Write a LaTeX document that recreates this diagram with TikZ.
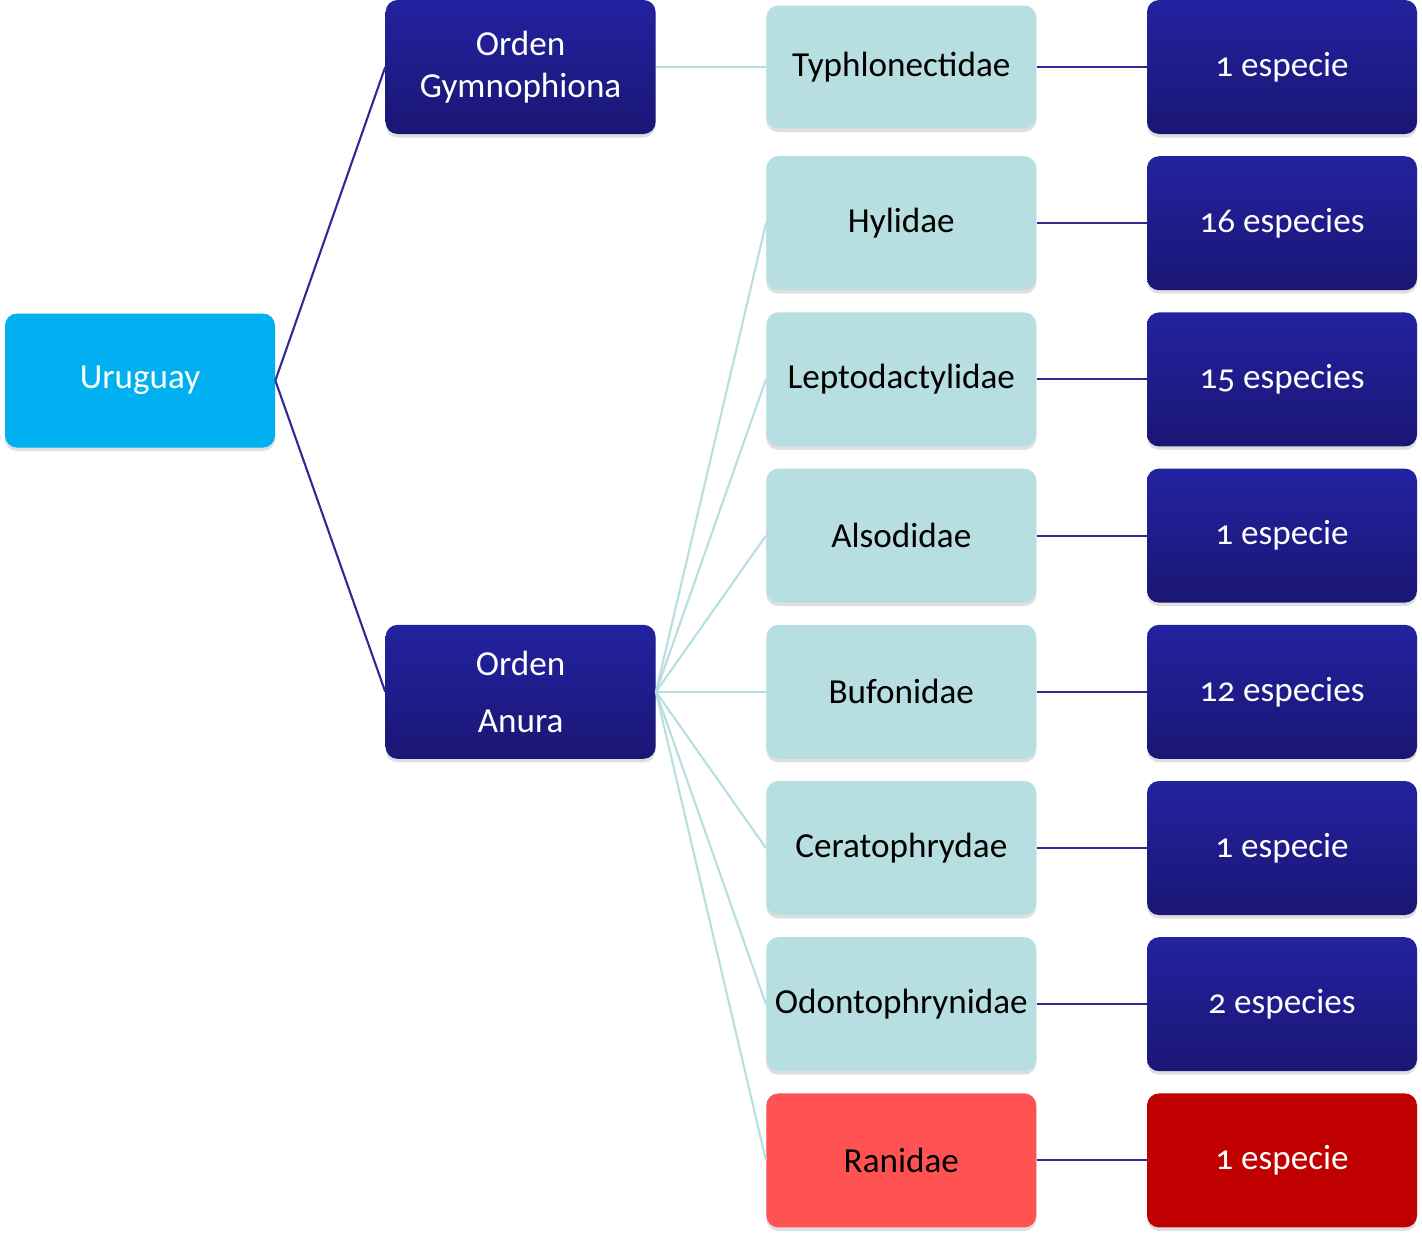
\documentclass[tikz,border=0pt]{standalone}
\usepackage{fontspec}
\setmainfont{Carlito}[Numbers=OldStyle]
\usetikzlibrary{positioning,shadows}
\definecolor{cian}{RGB}{0,176,240}
\definecolor{celeste}{RGB}{183,222,224}
\definecolor{azularriba}{RGB}{35,34,160}
\definecolor{azulabajo}{RGB}{26,22,116}
\definecolor{lineaazul}{RGB}{44,44,148}
\definecolor{rojoclaro}{RGB}{255,82,82}
\definecolor{rojo}{RGB}{192,0,0}
\tikzset{
  caja/.style={rectangle, rounded corners=0.24cm, minimum width=5.4cm,
    minimum height=2.68cm, align=center, font=\fontsize{20}{24}\selectfont,
    drop shadow={shadow xshift=0pt, shadow yshift=-0.07cm, opacity=0.25}},
  raiz/.style={caja, fill=cian, text=white},
  orden/.style={caja, top color=azularriba, bottom color=azulabajo, text=white},
  familia/.style={caja, fill=celeste, text=black},
  especie/.style={orden},
  rana/.style={caja, fill=rojoclaro, text=black},
  ranaesp/.style={caja, fill=rojo, text=white},
  oscura/.style={draw=lineaazul, line width=1.2pt},
  clara/.style={draw=celeste, line width=1.2pt},
}

\begin{document}
\begin{tikzpicture}[node distance=0.43cm and 2.2cm]
    \useasboundingbox (0,0) rectangle (28.44,-24.7);
    % especies
    \node[especie]               (E1) at (25.64,-1.34) {1 especie};
    \node[especie, below=of E1]  (E2) {16 especies};
    \node[especie, below=of E2]  (E3) {15 especies};
    \node[especie, below=of E3]  (E4) {1 especie};
    \node[especie, below=of E4]  (E5) {12 especies};
    \node[especie, below=of E5]  (E6) {1 especie};
    \node[especie, below=of E6]  (E7) {2 especies};
    \node[ranaesp, below=of E7]  (E8) {1 especie};
    % familias
    \node[familia, minimum height=2.46cm, left=of E1] (Typ) {Typhlonectidae};
    \node[familia, left=of E2]   (Hyl) {Hylidae};
    \node[familia, left=of E3]   (Lep) {Leptodactylidae};
    \node[familia, left=of E4]   (Als) {Alsodidae};
    \node[familia, left=of E5]   (Buf) {Bufonidae};
    \node[familia, left=of E6]   (Cer) {Ceratophrydae};
    \node[familia, left=of E7]   (Odo) {Odontophrynidae};
    \node[rana, left=of E8]      (Ran) {Ranidae};
    % ordenes
    \node[orden, left=of E1.west -| Typ.west] (Gym) {Orden\\Gymnophiona};
    \node[orden, left=of Buf]    (Anu) {Orden\\[0.3cm]Anura};
    \node[raiz]                  (Uru) at (2.8,-7.61) {Uruguay};
    \path
      (Uru.east) edge[oscura] (Gym.west)
      (Uru.east) edge[oscura] (Anu.west)
      (Gym.east) edge[clara]  (Typ.west);
    \foreach \f in {Hyl,Lep,Als,Buf,Cer,Odo,Ran}
      \path (Anu.east) edge[clara] (\f.west);
    \path
      (Typ.east) edge[oscura] (E1.west)
      (Hyl.east) edge[oscura] (E2.west)
      (Lep.east) edge[oscura] (E3.west)
      (Als.east) edge[oscura] (E4.west)
      (Buf.east) edge[oscura] (E5.west)
      (Cer.east) edge[oscura] (E6.west)
      (Odo.east) edge[oscura] (E7.west)
      (Ran.east) edge[oscura] (E8.west);
\end{tikzpicture}
\end{document}
